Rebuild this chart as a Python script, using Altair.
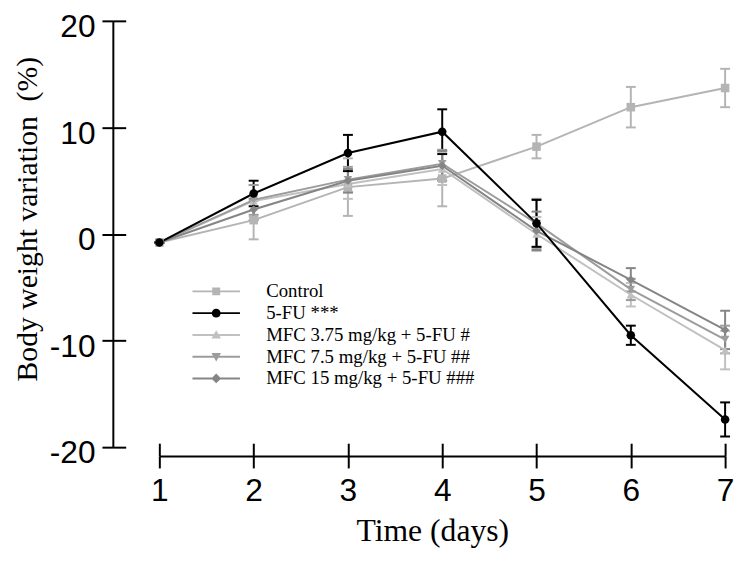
import altair as alt
import pandas as pd

# ---- data ----
days = [1, 2, 3, 4, 5, 6, 7]
series_names = ["Control", "5-FU ***", "MFC 3.75 mg/kg + 5-FU #",
                "MFC 7.5 mg/kg + 5-FU ##", "MFC 15 mg/kg + 5-FU ###"]
control = [-0.8, 1.3, 4.4, 5.2, 8.2, 11.9, 13.7]
control_err = [0, 1.8, 2.7, 2.6, 1.1, 1.9, 1.8]
fu = [-0.8, 3.8, 7.6, 9.6, 1.0, -9.5, -17.4]
fu_err = [0, 1.2, 1.7, 2.1, 2.2, 0.9, 1.6]
mfc375 = [-0.8, 3.1, 4.7, 6.1, 0.0, -5.7, -10.9]
mfc375_err = [0, 1.5, 1.4, 1.5, 1.6, 1.1, 1.8]
mfc75 = [-0.8, 3.2, 5.1, 6.6, 1.0, -5.2, -9.9]
mfc75_err = [0, 1.4, 1.2, 1.3, 2.3, 1.0, 1.3]
mfc15 = [-0.8, 2.3, 5.0, 6.4, 0.3, -4.3, -9.0]
mfc15_err = [0, 1.0, 1.1, 1.4, 1.8, 1.1, 1.8]
y_ticks = [-20, -10, 0, 10, 20]

colors = ["#b4b4b4", "#000000", "#c0c0c0", "#9c9c9c", "#858585"]
shapes = ["square", "circle", "triangle-up", "triangle-down", "diamond"]
legend_paths = [
    "M-3,-0.125H3V0.125H-3Z M-0.5,-0.5H0.5V0.5H-0.5Z",
    "M-3,-0.125H3V0.125H-3Z M-0.56,0A0.56,0.56,0,1,1,0.56,0A0.56,0.56,0,1,1,-0.56,0Z",
    "M-3,-0.125H3V0.125H-3Z M0,-0.6L0.6,0.45H-0.6Z",
    "M-3,-0.125H3V0.125H-3Z M0,0.6L-0.6,-0.45H0.6Z",
    "M-3,-0.125H3V0.125H-3Z M0,-0.62L0.62,0L0,0.62L-0.62,0Z",
]

# draw order: 5-FU last (on top)
draw_order = [0, 2, 3, 4, 1]
vals = [control, fu, mfc375, mfc75, mfc15]
errs = [control_err, fu_err, mfc375_err, mfc75_err, mfc15_err]
rows = []
for i in draw_order:
    for d, v, e in zip(days, vals[i], errs[i]):
        rows.append({"day": d, "val": v, "err": e, "series": series_names[i]})
df = pd.DataFrame(rows)

xscale = alt.Scale(domain=[1, 7], nice=False, zero=False)
yscale = alt.Scale(domain=[-20, 20], nice=False, zero=False)
cscale = alt.Scale(domain=series_names, range=colors)

x_axis = alt.Axis(values=days, offset=9, tickSize=12, tickWidth=2, tickColor="black",
                  domainWidth=2, domainColor="black", grid=False, labelFlush=False,
                  labelFont="Liberation Sans", labelFontSize=32, labelColor="black",
                  labelPadding=8, title="Time (days)", titleFont="Liberation Serif",
                  titleFontSize=32, titleFontWeight="normal", titleColor="black",
                  titlePadding=9, titleX=276)
y_axis = alt.Axis(values=y_ticks, offset=47, tickSize=11, tickWidth=2, tickColor="black",
                  domainWidth=2, domainColor="black", grid=False, labelFlush=False,
                  labelFont="Liberation Sans", labelFontSize=32, labelColor="black",
                  labelPadding=7, labelOffset=6, labelExpr="'' + datum.value",
                  title="Body weight variation\u00a0 (%)", titleFont="Liberation Serif",
                  titleFontSize=30, titleFontWeight="normal", titleColor="black",
                  titlePadding=7, titleY=200)

base = alt.Chart(df).transform_calculate(
    lo="datum.val - datum.err", hi="datum.val + datum.err")

X = alt.X("day:Q", scale=xscale, axis=x_axis)
Y = alt.Y("val:Q", scale=yscale, axis=y_axis)
C = alt.Color("series:N", scale=cscale, legend=None)

lines = base.mark_line(strokeWidth=2).encode(x=X, y=Y, color=C)
rules = base.mark_rule(strokeWidth=2).encode(x=X, y=alt.Y("lo:Q"), y2="hi:Q", color=C)
tick_hi = base.mark_tick(orient="horizontal", size=10, thickness=2, opacity=1).encode(
    x=X, y=alt.Y("hi:Q"), color=C)
tick_lo = base.mark_tick(orient="horizontal", size=10, thickness=2, opacity=1).encode(
    x=X, y=alt.Y("lo:Q"), color=C)
points = base.mark_point(filled=True, opacity=1, size=75).encode(
    x=X, y=Y, color=C,
    shape=alt.Shape("series:N", scale=alt.Scale(domain=series_names, range=shapes), legend=None))

main = alt.layer(rules, tick_hi, tick_lo, lines, points)

leg_props = dict(orient="none", legendX=48, legendY=264, title=None, symbolSize=256,
                 labelFont="Liberation Serif", labelFontSize=19, labelColor="black",
                 labelOffset=41, rowPadding=2, padding=0, labelLimit=500,
                 symbolStrokeWidth=0)
legend_layer = alt.Chart(df).transform_filter("false").mark_point(
    filled=True, opacity=1).encode(
    x=alt.X("day:Q", scale=xscale,
            axis=alt.Axis(orient="bottom", values=days, offset=-4, tickSize=13, tickWidth=2,
                          tickColor="black", domain=False, labels=False, title=None, grid=False)),
    y=alt.Y("val:Q", scale=yscale,
            axis=alt.Axis(orient="left", values=y_ticks, offset=34, tickSize=13, tickWidth=2,
                          tickColor="black", domain=False, labels=False, title=None, grid=False)),
    color=alt.Color("series:N", scale=alt.Scale(domain=series_names, range=colors),
                    legend=alt.Legend(**leg_props)),
    shape=alt.Shape("series:N", scale=alt.Scale(domain=series_names, range=legend_paths),
                    legend=alt.Legend(**leg_props)),
)

chart = alt.layer(main, legend_layer).resolve_scale(
    color="independent", shape="independent").resolve_axis(
    x="independent", y="independent").properties(
    width=572, height=431,
    autosize=alt.AutoSizeParams(type="none"),
    padding={"left": 153, "top": 10, "right": 10, "bottom": 103},
).configure_view(stroke=None)

chart.save("out.html", embed_options={"renderer": "svg", "actions": False})
